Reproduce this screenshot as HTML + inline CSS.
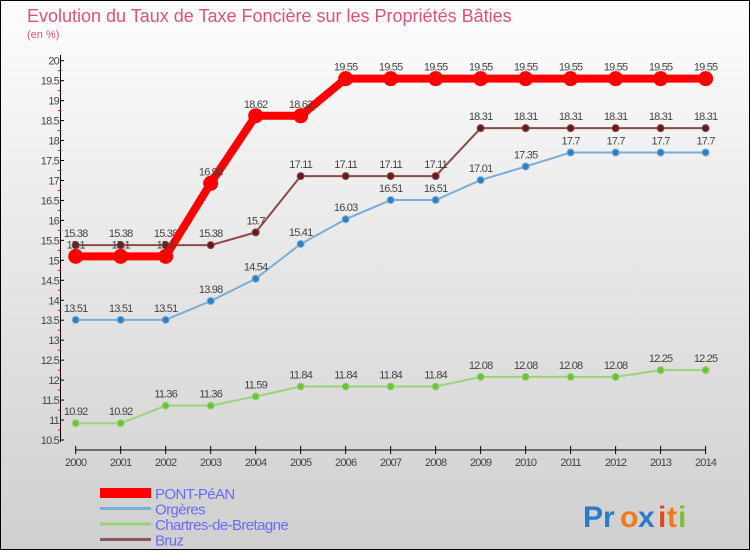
<!DOCTYPE html>
<html><head><meta charset="utf-8"><style>
body{margin:0}
svg text{font-family:"Liberation Sans",sans-serif}
</style></head><body>
<svg id="c" width="750" height="550" viewBox="0 0 750 550" xmlns="http://www.w3.org/2000/svg">
<defs><linearGradient id="bg" x1="0" y1="0" x2="0" y2="1"><stop offset="0" stop-color="#fdfdfd"/><stop offset="1" stop-color="#cfcfcf"/></linearGradient></defs>
<rect x="0.5" y="0.5" width="749" height="549" fill="url(#bg)" stroke="#000"/>
<text x="27" y="22" font-size="18" fill="#e0507a">Evolution du Taux de Taxe Foncière sur les Propriétés Bâties</text>
<text x="27" y="38" font-size="11" fill="#e0507a">(en %)</text>
<g id="axes"></g><g id="series"></g><g id="legend"></g>
<g font-size="30" font-weight="bold" font-family="Liberation Sans">
<text x="583" y="527" fill="#2a7ac8">Pr</text><text x="620" y="527" fill="#f07a1a">o</text><text x="638" y="527" fill="#2a7ac8">x</text><text x="658" y="527" fill="#e04a1a">i</text><text x="667" y="527" fill="#f07a1a">t</text><text x="678" y="527" fill="#80c030">i</text>
</g>
</svg>
<script>
const years=[2000,2001,2002,2003,2004,2005,2006,2007,2008,2009,2010,2011,2012,2013,2014];
const pontPean=[15.1,15.1,15.1,16.93,18.62,18.62,19.55,19.55,19.55,19.55,19.55,19.55,19.55,19.55,19.55];
const orgeres=[13.51,13.51,13.51,13.98,14.54,15.41,16.03,16.51,16.51,17.01,17.35,17.7,17.7,17.7,17.7];
const chartres=[10.92,10.92,11.36,11.36,11.59,11.84,11.84,11.84,11.84,12.08,12.08,12.08,12.08,12.25,12.25];
const bruz=[15.38,15.38,15.38,15.38,15.7,17.11,17.11,17.11,17.11,18.31,18.31,18.31,18.31,18.31,18.31];
const yTicks=[10.5,11,11.5,12,12.5,13,13.5,14,14.5,15,15.5,16,16.5,17,17.5,18,18.5,19,19.5,20];
const NS="http://www.w3.org/2000/svg";
const xs=y=>75.7+(y-2000)*(705.6-75.7)/14;
const ys=v=>440-(v-10.5)*(440-60.7)/9.5;
function mk(t,a,p){const e=document.createElementNS(NS,t);for(const k in a)e.setAttribute(k,a[k]);p.appendChild(e);return e;}
const ax=document.getElementById('axes');
const yl=mk('line',{x1:60.5,y1:55,x2:60.5,y2:442,stroke:'#000'},ax);


yTicks.forEach(v=>{
 mk('line',{x1:60,x2:64,y1:ys(v),y2:ys(v),stroke:'#000'},ax);
 if(v<20) mk('line',{x1:58,x2:61,y1:ys(v+0.25),y2:ys(v+0.25),stroke:'#e00'},ax);
 const t=mk('text',{x:59,y:ys(v)+4,'font-size':11,'text-anchor':'end',fill:'#444','letter-spacing':'-0.8'},ax);
 t.textContent=v;
 
 
});
const xl=mk('line',{x1:75.7,y1:450,x2:705.6,y2:450,stroke:'#000'},ax);


years.forEach(y=>{
 mk('line',{x1:xs(y),x2:xs(y),y1:446,y2:454,stroke:'#000'},ax);
 const t=mk('text',{x:xs(y),y:466,'font-size':11,'text-anchor':'middle',fill:'#444','letter-spacing':'-0.8'},ax);
 t.textContent=y;
 
 
});
const sg=document.getElementById('series');
function series(vals,color,w,r,name,dot){
 const g=mk('g',{},sg);
 
 
 const pl=mk('polyline',{points:vals.map((v,i)=>xs(years[i])+','+ys(v)).join(' '),fill:'none',stroke:color,'stroke-width':w,'stroke-linejoin':'round'},g);
 
 vals.forEach((v,i)=>{
  const c=mk('circle',{cx:xs(years[i]),cy:ys(v),r:r,fill:dot,stroke:color,'stroke-width':1},g);
  
  
  const t=mk('text',{x:xs(years[i]),y:ys(v)-8,'font-size':11,'text-anchor':'middle',fill:'#444','letter-spacing':'-0.8'},g);
  t.textContent=v;
  
  
 });
}
series(chartres,'#9ad478',2,3.5,'chartres-de-bretagne','#6cc23a');
series(orgeres,'#7aaed8',2,3.5,'orgeres','#2e7ec0');
series(bruz,'#8a4a4a',2,3.5,'bruz','#6a1a1a');
series(pontPean,'#f00',8,7,'pont-pean','#f00');
const lg=document.getElementById('legend');
[['PONT-PéAN','#f00',10],['Orgères','#7aaed8',3],['Chartres-de-Bretagne','#9ad478',3],['Bruz','#8a5a5a',3]].forEach((d,i)=>{
 const y=493+i*15.5;
 const g=mk('g',{},lg);
 
 
 mk('line',{x1:100,x2:151,y1:y,y2:y,stroke:d[1],'stroke-width':d[2]},g);
 const t=mk('text',{x:155,y:y+6,'font-size':15,fill:'#6a6aff','letter-spacing':'-0.6'},g);
 t.textContent=d[0];
});
</script>
</body></html>
